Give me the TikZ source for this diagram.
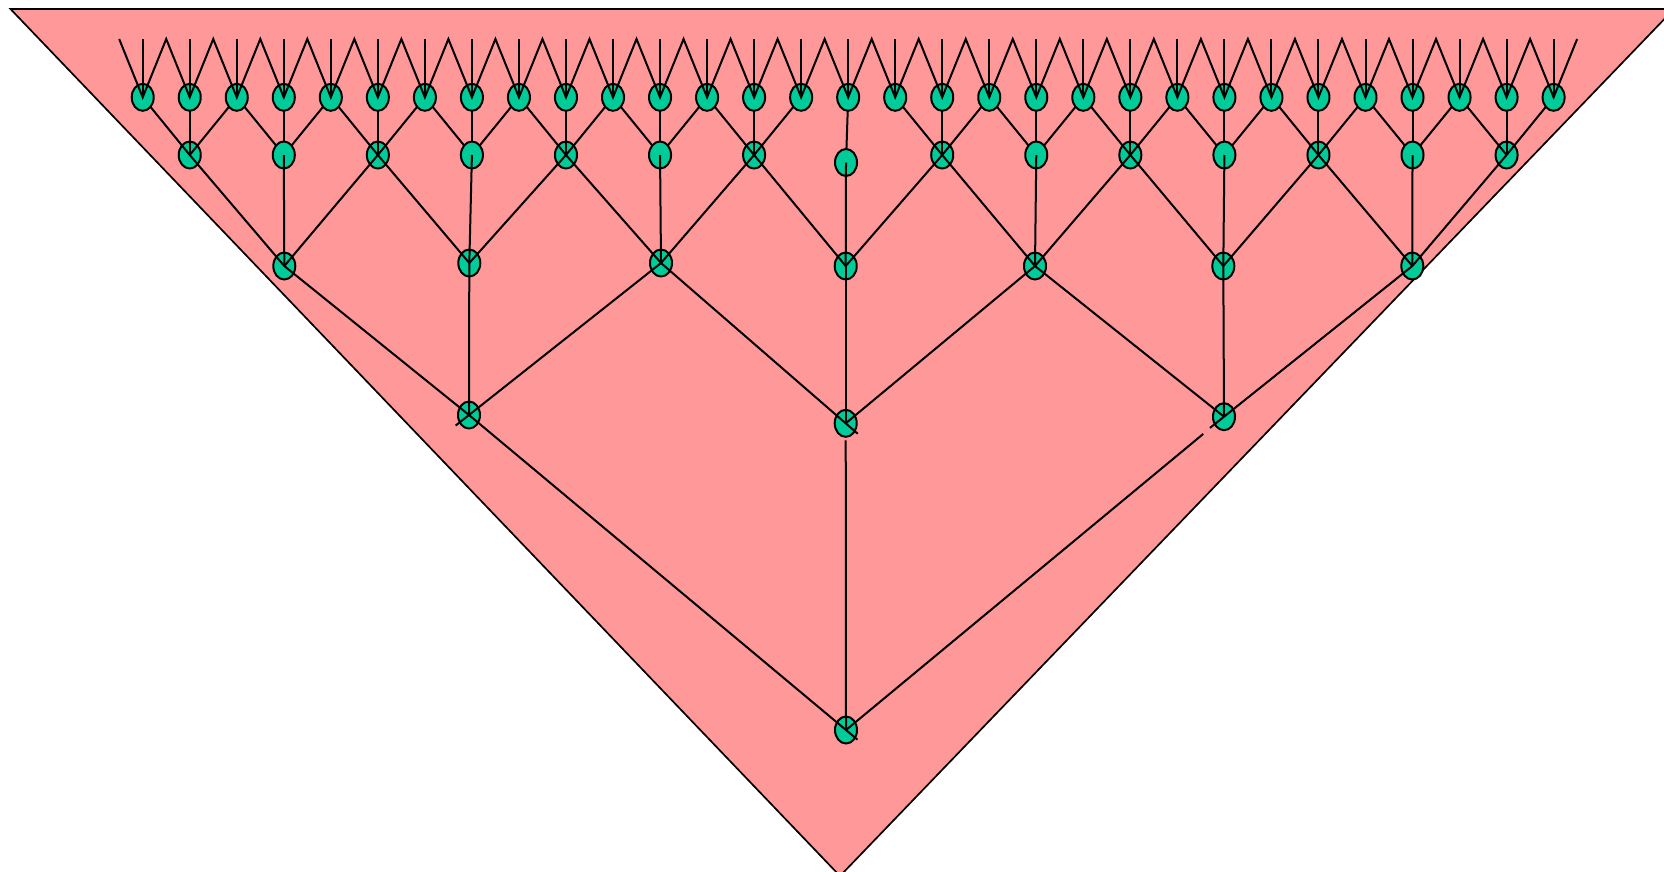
\documentclass[tikz,border=0pt]{standalone}
\usetikzlibrary{shapes.geometric}
\pgfdeclarelayer{bg}
\pgfdeclarelayer{lowN}
\pgfdeclarelayer{midE}
\pgfdeclarelayer{upN}
\pgfsetlayers{bg,lowN,midE,upN,main}
\definecolor{pinkfill}{HTML}{FF9999}
\definecolor{nodegreen}{HTML}{00CC99}
\tikzset{
  tnode/.style={ellipse, draw=black, fill=nodegreen, line width=2pt,
                minimum width=22pt, minimum height=27pt, inner sep=0pt},
  link/.style={draw=black, line width=2pt, line join=miter},
  frame/.style={fill=pinkfill, draw=black, line width=1.7pt}
}
\begin{document}
\begin{tikzpicture}[x=1pt,y=-1pt]
\useasboundingbox (0,0) rectangle (1664,871);
\begin{pgfonlayer}{bg}
  \clip (0,0) rectangle (1664,871);
  \fill[white] (0,0) rectangle (1664,871);
  \draw[frame] (10.5,9) -- (1674,9) -- (840,876) -- cycle;
\end{pgfonlayer}
% top coordinates
\foreach \i in {0,...,62} {
  \coordinate (t\i) at ({142.7-23.515+23.515*\i},39);
}
% level 4 nodes
\begin{pgfonlayer}{upN}
\foreach \k in {0,...,30} {
  \node[tnode] (a\k) at ({142.7+47.03*\k},97.3) {};
}
\end{pgfonlayer}
% level 3 nodes
\foreach \j in {0,...,14} {
  \pgfmathtruncatemacro{\parity}{mod(\j,2)}
  \pgfmathsetmacro{\xx}{142.7+47.03*(2*\j+1)}
  \ifnum\j=7
    \begin{pgfonlayer}{upN}
      \node[tnode] (b\j) at (846,162.5) {};
    \end{pgfonlayer}
  \else
    \ifnum\parity=0
      \begin{pgfonlayer}{lowN}
        \node[tnode] (b\j) at (\xx,155) {};
      \end{pgfonlayer}
    \else
      \begin{pgfonlayer}{upN}
        \node[tnode] (b\j) at (\xx,155) {};
      \end{pgfonlayer}
    \fi
  \fi
}
% level 2, level 1, root
\begin{pgfonlayer}{lowN}
\foreach \m/\xx/\yy in {0/284.3/266,1/469.3/263,2/661/263,3/845.7/266,4/1035/266,5/1223.3/266,6/1412.3/266} {
  \node[tnode] (c\m) at (\xx,\yy) {};
}
\node[tnode] (d0) at (469,415) {};
\node[tnode] (d1) at (845.7,423.3) {};
\node[tnode] (d2) at (1224,416.7) {};
\node[tnode] (r) at (846,730) {};
\end{pgfonlayer}
% level 4 -> level 3 edges
\begin{pgfonlayer}{midE}
\foreach \j in {0,1,2,3,4,5,6,8,9,10,11,12,13,14} {
  \pgfmathtruncatemacro{\ka}{2*\j}
  \pgfmathtruncatemacro{\kb}{2*\j+1}
  \pgfmathtruncatemacro{\kc}{2*\j+2}
  \draw[link] (a\ka.center) -- (b\j.center);
  \draw[link] (a\kb.center) -- (b\j.center);
  \draw[link] (a\kc.center) -- (b\j.center);
}
\draw[link] (a15.center) -- (b7.center);
\end{pgfonlayer}
% top zigzag and verticals
\draw[link] (t0) foreach \k [evaluate=\k as \n using int(2*\k+2)] in {0,...,30} { -- (a\k.center) -- (t\n) };
\foreach \k in {0,...,30} {
  \pgfmathtruncatemacro{\n}{2*\k+1}
  \draw[link] (t\n) -- (a\k.center);
}
% level 3 -> level 2 edges
\foreach \m in {0,...,6} {
  \pgfmathtruncatemacro{\ja}{2*\m}
  \pgfmathtruncatemacro{\jb}{2*\m+1}
  \pgfmathtruncatemacro{\jc}{2*\m+2}
  \draw[link] (b\ja.center) -- (c\m.center);
  \draw[link] (b\jb.center) -- (c\m.center);
  \draw[link] (b\jc.center) -- (c\m.center);
}
% level 2 -> level 1 edges
\draw[link] (c0.center) -- (d0.center);
\draw[link] (c1.center) -- (d0.center);
\draw[link, shorten >=-17pt] (c2.center) -- (d0.center);
\draw[link, shorten >=-16pt] (c2.center) -- (d1.center);
\draw[link] (c3.center) -- (d1.center);
\draw[link] (c4.center) -- (d1.center);
\draw[link] (c4.center) -- (d2.center);
\draw[link] (c5.center) -- (d2.center);
\draw[link, shorten >=-18pt] (c6.center) -- (d2.center);
% level 1 -> root edges
\draw[link, shorten >=-15pt] (d0.center) -- (r.center);
\draw[link, shorten >=17pt] (r.center) -- (d1.center);
\draw[link, shorten >=27pt] (r.center) -- (d2.center);
\end{tikzpicture}
\end{document}
